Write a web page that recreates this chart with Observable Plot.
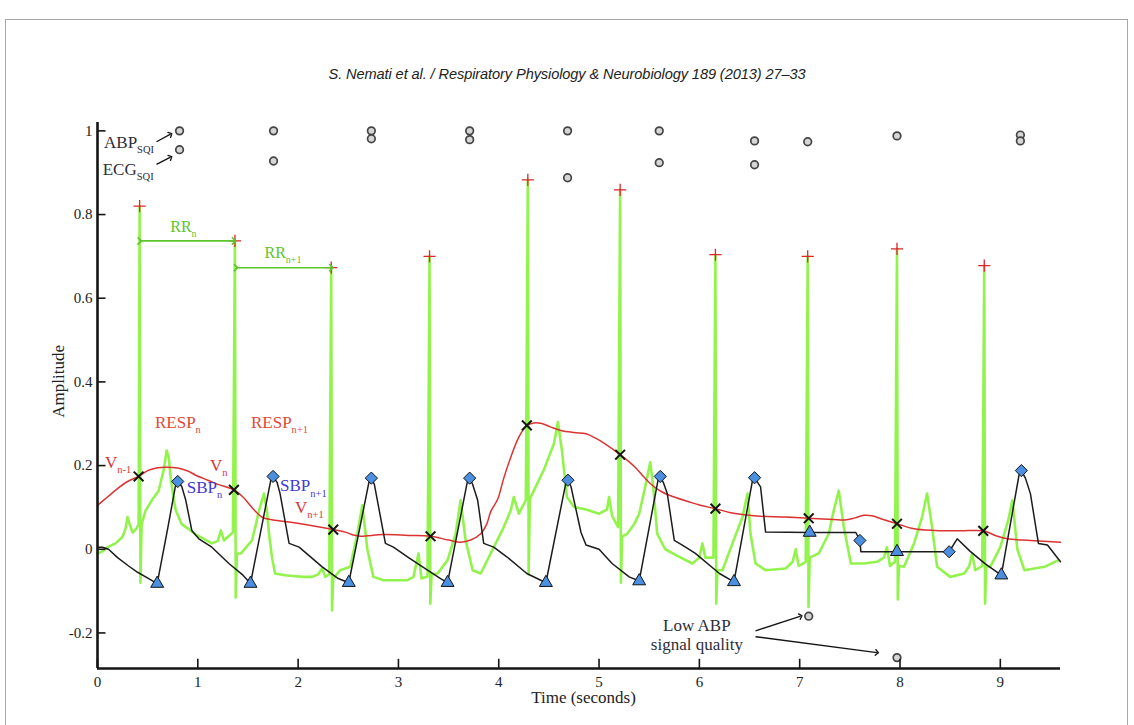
<!DOCTYPE html>
<html><head><meta charset="utf-8">
<script src="https://cdn.jsdelivr.net/npm/d3@7"></script>
<script src="https://cdn.jsdelivr.net/npm/@observablehq/plot@0.6"></script>
<style>
html,body{margin:0;padding:0;background:#fff;}
#page{position:relative;width:1134px;height:725px;overflow:hidden;}
#frame{position:absolute;left:5px;top:19px;width:1121px;height:720px;border:1.5px solid #a8a8a8;border-bottom:none;}
#title{position:absolute;left:0;width:1134px;top:66px;text-align:center;font:italic 14.6px "Liberation Sans",sans-serif;color:#222;letter-spacing:-0.1px;}
#chart{position:absolute;left:0;top:0;}
</style></head>
<body><div id="page"><div id="frame"></div><div id="title">S. Nemati et al. / Respiratory Physiology &amp; Neurobiology 189 (2013) 27–33</div><div id="chart"></div></div>
<script>
// ---------- data (time in s, amplitude) ----------
const xTicks = [0,1,2,3,4,5,6,7,8,9];
const xTickLabels = ["0","1","2","3","4","5","6","7","8","9"];
const yTicks = [-0.2,0,0.2,0.4,0.6,0.8,1];
const yTickLabels = ["-0.2","0","0.2","0.4","0.6","0.8","1"];

// ECG (green)
const ecg = [
 [0.00,-0.01],[0.05,-0.005],[0.10,0.005],[0.18,0.014],[0.25,0.03],[0.28,0.05],[0.30,0.077],[0.32,0.06],[0.35,0.04],[0.39,0.05],[0.41,0.06],
 [0.42,0.82],[0.428,-0.08],[0.44,0.06],
 [0.48,0.093],[0.55,0.12],[0.61,0.14],[0.66,0.19],[0.69,0.236],[0.71,0.22],[0.73,0.17],[0.76,0.12],[0.78,0.093],[0.84,0.06],[0.90,0.05],[0.98,0.035],[1.06,0.025],[1.14,0.014],[1.20,0.02],[1.23,0.045],[1.26,0.021],[1.30,0.03],[1.35,0.04],
 [1.37,0.737],[1.378,-0.115],[1.39,-0.01],
 [1.43,-0.01],[1.50,0.01],[1.54,0.021],[1.58,0.06],[1.61,0.093],[1.66,0.133],[1.69,0.09],[1.71,0.037],[1.74,-0.02],[1.77,-0.058],[1.87,-0.062],[1.95,-0.064],[2.05,-0.066],[2.14,-0.066],[2.20,-0.06],[2.24,-0.045],[2.27,-0.066],[2.31,-0.06],
 [2.33,0.673],[2.338,-0.146],[2.35,-0.07],
 [2.42,-0.05],[2.52,-0.042],[2.59,0.037],[2.64,0.105],[2.69,0.0],[2.75,-0.066],[2.85,-0.074],[3.09,-0.074],[3.15,-0.066],[3.20,-0.01],[3.23,-0.07],[3.29,-0.065],
 [3.31,0.70],[3.318,-0.13],[3.33,-0.06],
 [3.39,-0.058],[3.49,-0.026],[3.57,0.037],[3.62,0.117],[3.67,0.021],[3.74,-0.05],[3.82,-0.058],[3.92,-0.01],[4.05,0.053],[4.12,0.093],[4.15,0.125],[4.20,0.085],[4.27,0.117],
 [4.29,0.883],[4.298,-0.06],[4.31,0.12],
 [4.35,0.14],[4.45,0.19],[4.55,0.252],[4.59,0.304],[4.63,0.236],[4.68,0.125],[4.75,0.101],[4.87,0.095],[5.00,0.085],[5.08,0.095],[5.10,0.125],[5.13,0.08],[5.19,0.053],
 [5.21,0.859],[5.218,-0.08],[5.23,0.03],
 [5.28,0.037],[5.35,0.06],[5.40,0.085],[5.46,0.149],[5.51,0.208],[5.54,0.15],[5.58,0.037],[5.66,0.0],[5.80,-0.018],[5.93,-0.034],[6.00,-0.02],[6.03,0.014],[6.06,-0.02],[6.14,-0.02],
 [6.16,0.704],[6.168,-0.13],[6.18,-0.05],
 [6.23,-0.05],[6.33,0.014],[6.43,0.077],[6.48,0.133],[6.51,0.037],[6.56,-0.034],[6.66,-0.05],[6.86,-0.046],[6.93,-0.03],[6.96,0.0],[6.99,-0.04],[7.06,-0.03],
 [7.08,0.70],[7.088,-0.138],[7.10,-0.02],
 [7.19,-0.01],[7.29,0.037],[7.34,0.093],[7.39,0.14],[7.44,0.053],[7.51,-0.034],[7.64,-0.034],[7.77,-0.03],[7.84,-0.02],[7.87,0.005],[7.90,-0.04],[7.95,-0.03],
 [7.97,0.718],[7.978,-0.12],[7.99,-0.04],
 [8.04,-0.042],[8.14,0.014],[8.22,0.077],[8.27,0.133],[8.32,0.053],[8.37,-0.042],[8.50,-0.066],[8.64,-0.058],[8.69,-0.04],[8.72,-0.01],[8.75,-0.05],[8.82,-0.04],
 [8.84,0.678],[8.848,-0.13],[8.86,-0.04],
 [8.90,-0.042],[9.00,0.005],[9.08,0.07],[9.12,0.117],[9.17,0.0],[9.24,-0.05],[9.44,-0.042],[9.58,-0.026]
];

// respiration (red)
const resp = [
 [0.00,0.105],[0.10,0.125],[0.20,0.145],[0.30,0.162],[0.41,0.174],[0.50,0.188],[0.60,0.195],[0.69,0.196],[0.80,0.194],[0.90,0.187],[0.98,0.177],[1.10,0.165],[1.20,0.155],[1.36,0.142],
 [1.45,0.125],[1.55,0.097],[1.64,0.077],[1.75,0.07],[1.91,0.065],[2.10,0.058],[2.35,0.047],[2.47,0.041],[2.55,0.034],[2.62,0.031],[2.85,0.035],[3.10,0.033],[3.32,0.031],
 [3.50,0.022],[3.62,0.017],[3.72,0.022],[3.82,0.037],[3.88,0.06],[3.92,0.09],[3.99,0.12],[4.05,0.17],[4.12,0.22],[4.20,0.268],[4.28,0.296],[4.35,0.302],[4.42,0.301],
 [4.52,0.292],[4.62,0.284],[4.75,0.279],[4.87,0.276],[4.97,0.265],[5.06,0.252],[5.21,0.226],[5.36,0.196],[5.45,0.172],[5.53,0.153],[5.62,0.138],[5.70,0.129],[5.90,0.113],
 [6.01,0.105],[6.16,0.097],[6.30,0.088],[6.43,0.083],[6.60,0.079],[6.86,0.077],[7.09,0.074],[7.34,0.071],[7.45,0.070],[7.55,0.075],[7.64,0.081],[7.72,0.080],[7.81,0.073],
 [7.97,0.061],[8.14,0.049],[8.35,0.045],[8.60,0.044],[8.83,0.044],[8.95,0.033],[9.07,0.025],[9.30,0.021],[9.60,0.017]
];

// arterial blood pressure (black)
const abp = [
 [0.00,0.005],[0.05,0.005],[0.11,0.0],[0.20,-0.02],[0.31,-0.04],[0.40,-0.055],[0.48,-0.066],[0.595,-0.082],[0.70,0.05],[0.78,0.155],[0.80,0.162],[0.84,0.15],[0.88,0.117],[0.94,0.045],
 [1.01,0.025],[1.14,0.005],[1.31,-0.034],[1.45,-0.062],[1.525,-0.082],[1.73,0.168],[1.75,0.174],[1.79,0.16],[1.82,0.133],[1.91,0.014],[2.01,0.005],[2.24,-0.042],[2.40,-0.07],
 [2.505,-0.08],[2.71,0.165],[2.73,0.170],[2.76,0.155],[2.79,0.117],[2.87,0.014],[2.95,0.005],[3.09,-0.018],[3.29,-0.05],[3.42,-0.07],[3.49,-0.08],[3.69,0.165],[3.71,0.170],
 [3.74,0.155],[3.79,0.117],[3.85,0.014],[3.95,0.005],[4.08,-0.018],[4.28,-0.058],[4.47,-0.08],[4.67,0.16],[4.69,0.165],[4.72,0.15],[4.75,0.117],[4.82,0.04],[4.87,0.01],
 [5.00,0.0],[5.13,-0.034],[5.30,-0.066],[5.40,-0.076],[5.59,0.168],[5.61,0.174],[5.64,0.16],[5.68,0.133],[5.75,0.021],[5.83,0.01],[5.96,-0.01],[6.20,-0.058],[6.345,-0.078],
 [6.53,0.165],[6.55,0.171],[6.58,0.16],[6.61,0.149],[6.66,0.041],[7.10,0.040],[7.56,0.040],[7.60,0.021],[7.61,-0.006],[7.97,-0.006],[8.49,-0.006],[8.57,0.025],[8.70,-0.005],
 [8.85,-0.035],[9.01,-0.062],[9.19,0.182],[9.21,0.188],[9.25,0.17],[9.30,0.133],[9.38,0.014],[9.47,0.01],[9.60,-0.03]
];

const rPeaks = [[0.42,0.82],[1.37,0.737],[2.33,0.673],[3.31,0.70],[4.29,0.883],[5.21,0.859],[6.16,0.704],[7.08,0.70],[7.97,0.718],[8.84,0.678]];
const respAtR = [[0.41,0.174],[1.36,0.142],[2.35,0.047],[3.32,0.031],[4.28,0.296],[5.21,0.226],[6.16,0.097],[7.09,0.074],[7.97,0.061],[8.83,0.044]];
const sbp = [[0.80,0.162],[1.75,0.174],[2.73,0.170],[3.71,0.170],[4.69,0.165],[5.61,0.174],[6.55,0.171],[7.60,0.021],[8.49,-0.006],[9.21,0.188]];
const dbp = [[0.595,-0.082],[1.525,-0.082],[2.505,-0.08],[3.49,-0.08],[4.47,-0.08],[5.40,-0.076],[6.345,-0.078],[7.10,0.040],[7.97,-0.006],[9.01,-0.062]];
const abpSqi = [[0.818,1.0],[1.755,1.0],[2.73,1.0],[3.71,1.0],[4.686,1.0],[5.60,1.0],[6.55,0.976],[7.09,-0.16],[7.97,-0.259],[9.20,0.990]];
const ecgSqi = [[0.818,0.955],[1.755,0.928],[2.73,0.981],[3.71,0.979],[4.686,0.888],[5.60,0.924],[6.55,0.919],[7.08,0.974],[7.97,0.988],[9.20,0.976]];

// RR interval spans [t1, t2, level]
const rrSpans = [[0.42,1.36,0.737],[1.38,2.33,0.673]];
// pointer arrows [t1, v1, t2, v2]
const pointers = [[0.588,0.974,0.728,0.992],[0.588,0.920,0.728,0.937],[6.56,-0.195,7.01,-0.160],[6.56,-0.209,7.77,-0.247]];

// text annotations
const labels = [
 {t:0.07, v:0.957, main:"ABP", sub:"SQI", color:"#2d2d3a", size:17},
 {t:0.057,v:0.893, main:"ECG", sub:"SQI", color:"#2d2d3a", size:17},
 {t:0.73, v:0.757, main:"RR", sub:"n", color:"#5cc52c", size:16},
 {t:1.67, v:0.695, main:"RR", sub:"n+1", color:"#5cc52c", size:16},
 {t:0.578,v:0.288, main:"RESP", sub:"n", color:"#df4a3a", size:17},
 {t:1.535,v:0.288, main:"RESP", sub:"n+1", color:"#df4a3a", size:17},
 {t:0.08, v:0.193, main:"V", sub:"n-1", color:"#d9343a", size:17},
 {t:1.127,v:0.185, main:"V", sub:"n", color:"#d9343a", size:17},
 {t:1.974,v:0.085, main:"V", sub:"n+1", color:"#d9343a", size:17},
 {t:0.894,v:0.133, main:"SBP", sub:"n", color:"#3f3ad2", size:17},
 {t:1.824,v:0.137, main:"SBP", sub:"n+1", color:"#3f3ad2", size:17},
 {t:5.98, v:-0.197, main:"Low ABP", sub:"", color:"#2d2d3a", size:17, anchor:"middle"},
 {t:5.98, v:-0.241, main:"signal quality", sub:"", color:"#2d2d3a", size:17, anchor:"middle"}
];

// ---------- chart ----------
const serif = "'Liberation Serif','Times New Roman',serif";
const X = d => d[0], Y = d => d[1];
const xDomain = [0, 9.6], yDomain = [-0.285, 1.02];
const GREEN = "#86f23a", RED = "#dc3232", BLUE = "#4a8fe0", INK = "#151515";

const plot = Plot.plot({
  width: 1134, height: 725,
  marginLeft: 97, marginRight: 74, marginTop: 122, marginBottom: 57,
  x: {domain: xDomain}, y: {domain: yDomain},
  style: {fontFamily: serif, background: "transparent", color: "#222", overflow: "visible"},
  marks: [
    Plot.line(ecg, {x: X, y: Y, stroke: GREEN, strokeWidth: 2.6, strokeLinejoin: "round", strokeOpacity: 0.9}),
    Plot.line(resp, {x: X, y: Y, stroke: RED, strokeWidth: 1.5, curve: "catmull-rom"}),
    Plot.line(abp, {x: X, y: Y, stroke: "#1c1c1c", strokeWidth: 1.5, strokeLinejoin: "round"}),
    Plot.dot(rPeaks, {x: X, y: Y, symbol: "plus", stroke: "#e0242a", r: 4, strokeWidth: 1.3}),
    Plot.dot(respAtR, {x: X, y: Y, symbol: "times", stroke: INK, r: 4.5, strokeWidth: 2}),
    Plot.dot(dbp, {x: X, y: Y, symbol: "triangle", fill: BLUE, stroke: INK, r: 4.8, strokeWidth: 1}),
    Plot.dot(sbp, {x: X, y: Y, symbol: "diamond2", fill: BLUE, stroke: INK, r: 5.5, strokeWidth: 1}),
    Plot.dot(abpSqi, {x: X, y: Y, r: 3.8, fill: "#d6d6d6", stroke: "#444", strokeWidth: 1.7}),
    Plot.dot(ecgSqi, {x: X, y: Y, r: 3.8, fill: "#d6d6d6", stroke: "#444", strokeWidth: 1.7}),
    Plot.link(rrSpans, {x1: d => d[0], x2: d => d[1], y1: d => d[2], y2: d => d[2], stroke: "#5cc52c", strokeWidth: 1.6, markerStart: "arrow", markerEnd: "arrow"}),
    Plot.link(pointers, {x1: d => d[0], y1: d => d[1], x2: d => d[2], y2: d => d[3], stroke: INK, strokeWidth: 1.4, markerEnd: "arrow"}),
    // axes
    Plot.ruleY(yTicks, {x1: xDomain[0], x2: 0.085, stroke: INK, strokeWidth: 1.6}),
    Plot.ruleX(xTicks, {y1: yDomain[0], y2: yDomain[0] + 0.022, stroke: INK, strokeWidth: 1.6}),
    Plot.ruleX([xDomain[0]], {y1: yDomain[0], y2: yDomain[1], stroke: INK, strokeWidth: 2.6}),
    Plot.ruleY([yDomain[0]], {x1: xDomain[0], x2: xDomain[1], stroke: INK, strokeWidth: 2.6}),
    Plot.axisY({ticks: yTicks, tickSize: 0, tickPadding: 5, tickFormat: d => yTickLabels[yTicks.indexOf(d)], fontSize: 15, label: null}),
    Plot.axisX({ticks: xTicks, tickSize: 0, tickPadding: 8, tickFormat: d => xTickLabels[xTicks.indexOf(d)], fontSize: 15, label: null})
  ]
});
document.getElementById("chart").appendChild(plot);

const sx = plot.scale("x"), sy = plot.scale("y");
const svg = d3.select(plot);
for (const a of labels) {
  const t = svg.append("text")
    .attr("x", sx.apply(a.t)).attr("y", sy.apply(a.v))
    .attr("fill", a.color).attr("font-family", serif).attr("font-size", a.size)
    .attr("text-anchor", a.anchor || "start");
  t.append("tspan").text(a.main);
  if (a.sub) t.append("tspan").attr("dy", a.size * 0.3).attr("font-size", a.size * 0.62).text(a.sub);
}
// axis titles
svg.append("text")
  .attr("transform", `translate(${sx.apply(xDomain[0]) - 37},${sy.apply(0.4)}) rotate(-90)`)
  .attr("text-anchor", "middle").attr("dominant-baseline", "middle")
  .attr("font-family", serif).attr("font-size", 17).attr("fill", "#222").text("Amplitude");
svg.append("text")
  .attr("x", sx.apply(4.85)).attr("y", sy.apply(yDomain[0]) + 35)
  .attr("text-anchor", "middle")
  .attr("font-family", serif).attr("font-size", 17).attr("fill", "#222").text("Time (seconds)");
</script></body></html>
